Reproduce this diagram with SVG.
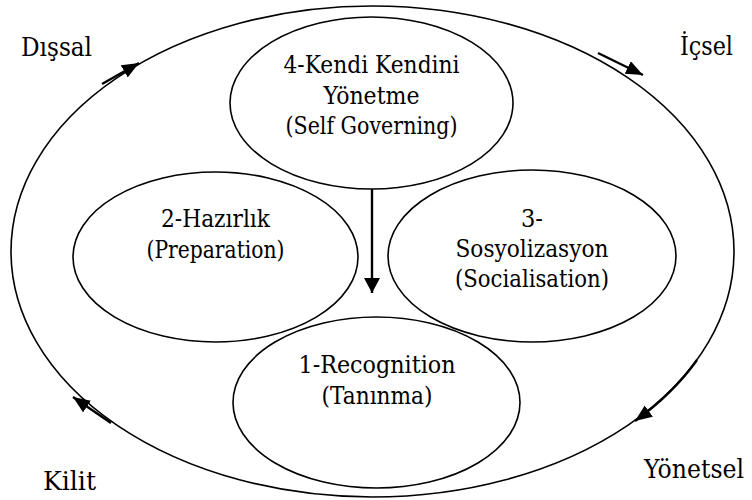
<svg xmlns="http://www.w3.org/2000/svg" width="752" height="500" viewBox="0 0 752 500">
<style>
.e{fill:none;stroke:#000;stroke-width:1.6}
text{font-family:'DejaVu Serif',serif;fill:#000}
.t{font-size:24px;text-anchor:middle}
.o{font-size:26px}
.c{fill:none;stroke:#000;stroke-width:2.4}
</style>
<defs>
<marker id="ah" markerUnits="userSpaceOnUse" markerWidth="20" markerHeight="16" refX="17" refY="7" orient="auto">
<path d="M0,0 L17,7 L0,14 z" fill="#000"/>
</marker>
<marker id="av" markerUnits="userSpaceOnUse" markerWidth="16" markerHeight="16" refX="15" refY="8" orient="auto">
<path d="M0,0 L15,8 L0,16 z" fill="#000"/>
</marker>
</defs>
<g id="outer">
<ellipse class="e" cx="372.5" cy="251.5" rx="361.5" ry="245.5"/>
</g>
<g id="labels">
<text class="o" x="21" y="56" textLength="71" lengthAdjust="spacingAndGlyphs">Dışsal</text>
<text class="o" x="680" y="55" textLength="53" lengthAdjust="spacingAndGlyphs">İçsel</text>
<text class="o" x="43" y="490" textLength="53" lengthAdjust="spacingAndGlyphs">Kilit</text>
<text class="o" x="644" y="478" textLength="100" lengthAdjust="spacingAndGlyphs">Yönetsel</text>
</g>
<g id="n4">
<ellipse class="e" cx="371.5" cy="103" rx="141.5" ry="86"/>
<text class="t" x="371.5" y="73" textLength="176" lengthAdjust="spacingAndGlyphs">4-Kendi Kendini</text>
<text class="t" x="371.5" y="104" textLength="96" lengthAdjust="spacingAndGlyphs">Yönetme</text>
<text class="t" x="371.5" y="134" textLength="172" lengthAdjust="spacingAndGlyphs">(Self Governing)</text>
</g>
<g id="n2">
<ellipse class="e" cx="215.5" cy="257" rx="142.5" ry="85"/>
<text class="t" x="215.5" y="227" textLength="109" lengthAdjust="spacingAndGlyphs">2-Hazırlık</text>
<text class="t" x="215.5" y="258" textLength="138" lengthAdjust="spacingAndGlyphs">(Preparation)</text>
</g>
<g id="n3">
<ellipse class="e" cx="532" cy="256" rx="144" ry="86"/>
<text class="t" x="532" y="227" textLength="22" lengthAdjust="spacingAndGlyphs">3-</text>
<text class="t" x="532" y="257" textLength="153" lengthAdjust="spacingAndGlyphs">Sosyolizasyon</text>
<text class="t" x="532" y="287" textLength="154" lengthAdjust="spacingAndGlyphs">(Socialisation)</text>
</g>
<g id="n1">
<ellipse class="e" cx="376.5" cy="402.5" rx="143.5" ry="85.5"/>
<text class="t" x="377" y="373" textLength="157" lengthAdjust="spacingAndGlyphs">1-Recognition</text>
<text class="t" x="377" y="404" textLength="111" lengthAdjust="spacingAndGlyphs">(Tanınma)</text>
</g>
<g id="connectors">
<line class="c" x1="372" y1="189" x2="372" y2="293" marker-end="url(#av)"/>
<line class="c" x1="102" y1="84" x2="139" y2="63" marker-end="url(#ah)"/>
<line class="c" x1="598" y1="53" x2="643" y2="75" marker-end="url(#ah)"/>
<line class="c" x1="111" y1="423" x2="73" y2="397" marker-end="url(#ah)"/>
<path class="c" d="M697,360 A361.5,245.5 0 0 1 635,421" marker-end="url(#ah)"/>
</g>
</svg>
